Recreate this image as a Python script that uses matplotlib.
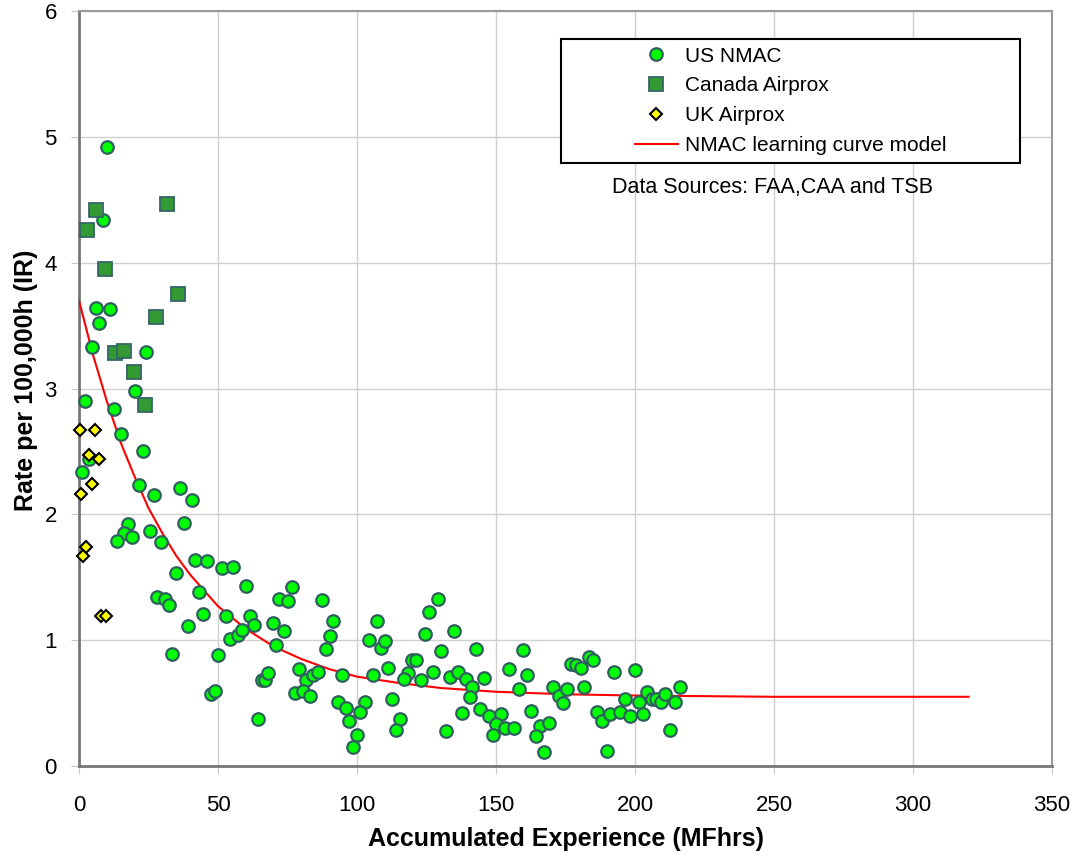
import matplotlib
matplotlib.use("Agg")
import matplotlib.pyplot as plt
from matplotlib.patches import Rectangle
from matplotlib.lines import Line2D

plt.rcParams['font.family'] = ['Liberation Sans', 'DejaVu Sans']

# US NMAC rates vs accumulated experience
us_x = [10.1, 8.6, 6.1, 11.2, 7.2, 4.7, 24.1, 2.2, 20.1, 12.6,
        15.1, 23.0, 3.6, 1.1, 21.6, 27.0, 36.3, 40.6, 37.8, 17.6,
        16.2, 19.1, 13.7, 25.5, 29.5, 41.7, 46.0, 51.4, 55.4, 34.9,
        60.1, 43.2, 28.1, 30.9, 32.4, 44.6, 52.9, 61.5, 62.9, 39.2,
        69.8, 71.9, 75.2, 76.6, 87.4, 91.4, 73.7, 70.9, 90.3, 88.8,
        54.3, 57.2, 58.6, 50.0, 33.5, 79.1, 81.7, 84.2, 86.0, 94.6,
        77.7, 80.6, 83.1, 65.8, 66.9, 68.0, 47.5, 48.9, 64.4, 93.2,
        96.0, 97.1, 102.9, 101.1, 100.0, 98.6, 104.3, 107.2, 108.6, 110.1,
        105.8, 111.2, 129.1, 125.9, 124.5, 134.9, 130.2, 142.8, 159.7, 119.8,
        121.2, 118.3, 116.9, 123.0, 127.3, 133.5, 136.3, 139.2, 141.4, 140.6,
        145.7, 154.7, 161.2, 158.3, 170.5, 172.7, 174.1, 175.5, 112.6, 115.5,
        114.0, 132.0, 137.8, 144.2, 147.5, 151.8, 150.0, 148.9, 153.2, 156.5,
        162.6, 165.8, 169.1, 164.4, 167.3, 183.5, 184.9, 177.0, 178.8, 180.6,
        192.4, 200.0, 181.7, 196.4, 201.4, 204.3, 206.1, 207.6, 209.4, 210.8,
        214.4, 216.2, 186.3, 188.1, 191.0, 194.6, 198.2, 202.9, 212.6, 189.9]
us_y = [4.92, 4.34, 3.64, 3.63, 3.52, 3.33, 3.29, 2.90, 2.98, 2.84,
        2.64, 2.50, 2.44, 2.34, 2.23, 2.15, 2.21, 2.11, 1.93, 1.92,
        1.85, 1.82, 1.79, 1.87, 1.78, 1.64, 1.63, 1.57, 1.58, 1.53,
        1.43, 1.38, 1.34, 1.33, 1.28, 1.21, 1.19, 1.19, 1.12, 1.11,
        1.14, 1.33, 1.31, 1.42, 1.32, 1.15, 1.07, 0.96, 1.03, 0.93,
        1.01, 1.04, 1.08, 0.88, 0.89, 0.77, 0.68, 0.72, 0.75, 0.72,
        0.58, 0.60, 0.56, 0.68, 0.68, 0.74, 0.57, 0.60, 0.37, 0.51,
        0.46, 0.36, 0.51, 0.43, 0.25, 0.15, 1.00, 1.15, 0.94, 0.99,
        0.72, 0.78, 1.33, 1.22, 1.05, 1.07, 0.91, 0.93, 0.92, 0.84,
        0.84, 0.74, 0.69, 0.68, 0.75, 0.71, 0.75, 0.69, 0.63, 0.55,
        0.70, 0.77, 0.72, 0.61, 0.63, 0.56, 0.50, 0.61, 0.53, 0.37,
        0.29, 0.28, 0.42, 0.45, 0.40, 0.41, 0.33, 0.25, 0.30, 0.30,
        0.44, 0.32, 0.34, 0.24, 0.11, 0.87, 0.84, 0.81, 0.80, 0.78,
        0.75, 0.76, 0.63, 0.53, 0.51, 0.59, 0.53, 0.53, 0.51, 0.57,
        0.51, 0.63, 0.43, 0.36, 0.41, 0.43, 0.40, 0.41, 0.29, 0.12]

# Canada Airprox
ca_x = [31.7, 6.1, 2.9, 9.4, 35.6, 27.7, 12.9, 16.2, 19.8, 23.7]
ca_y = [4.47, 4.42, 4.26, 3.95, 3.75, 3.57, 3.28, 3.30, 3.13, 2.87]

# UK Airprox
uk_x = [0.2, 5.8, 3.6, 7.2, 4.7, 0.7, 2.5, 1.4, 7.9, 9.7]
uk_y = [2.67, 2.67, 2.47, 2.44, 2.24, 2.16, 1.74, 1.67, 1.19, 1.19]

# NMAC learning curve model, sampled from the chart
curve_x = [0, 5, 10, 15, 20, 25, 30, 35, 40, 50, 60, 70, 80, 90,
           100, 115, 130, 150, 175, 200, 250, 320]
curve_y = [3.70, 3.27, 2.90, 2.57, 2.30, 2.05, 1.85, 1.67, 1.52, 1.27,
           1.09, 0.95, 0.85, 0.77, 0.71, 0.66, 0.62, 0.59, 0.57, 0.56,
           0.55, 0.55]

x_ticks = [0, 50, 100, 150, 200, 250, 300, 350]
y_ticks = [0, 1, 2, 3, 4, 5, 6]

us_style = dict(marker='o', ms=9, mfc='#00ff00', mec='#2f5f5f', mew=1.6)
ca_style = dict(marker='s', ms=9.5, mfc='#339933', mec='#336666', mew=1.3)
uk_style = dict(marker='D', ms=6.5, mfc='#ffff00', mec='black', mew=1.5)

W, H = 1071, 855
fig = plt.figure(figsize=(W / 100, H / 100), dpi=100)
ax = fig.add_axes([79 / W, 1 - 766 / H, 973 / W, 755 / H])

ax.set_xlim(0, 350)
ax.set_ylim(0, 6)
ax.set_xticks(x_ticks)
ax.set_yticks(y_ticks)
ax.grid(True, color='#d0d0d0', linewidth=1)
ax.set_axisbelow(True)
ax.tick_params(direction='out', length=6, color='#c8c8c8', labelsize=16)
ax.tick_params(axis='x', pad=15)
ax.tick_params(axis='y', pad=10)
for side in ['left', 'bottom']:
    ax.spines[side].set_color('#777777')
    ax.spines[side].set_linewidth(2)
for side in ['top', 'right']:
    ax.spines[side].set_color('#999999')
    ax.spines[side].set_linewidth(1.5)

ax.plot(curve_x, curve_y, color='red', lw=1.5, zorder=3)
ax.plot(us_x, us_y, ls='none', zorder=4, clip_on=False, **us_style)
ax.plot(ca_x, ca_y, ls='none', zorder=4, clip_on=False, **ca_style)
ax.plot(uk_x, uk_y, ls='none', zorder=5, clip_on=False, **uk_style)

# legend: frame drawn separately so it can be wider than the entries
handles = [
    Line2D([], [], ls='none', **us_style),
    Line2D([], [], ls='none', **ca_style),
    Line2D([], [], ls='none', **uk_style),
    Line2D([], [], color='red', lw=1.5),
]
labels = ['US NMAC', 'Canada Airprox', 'UK Airprox', 'NMAC learning curve model']
ax.add_patch(Rectangle((0.4954, 0.7987), 0.4717, 0.1642, transform=ax.transAxes,
                       facecolor='white', edgecolor='black', lw=1.5, zorder=6))
leg = ax.legend(handles, labels, loc='center', bbox_to_anchor=(0.731, 0.881),
                frameon=False, fontsize=15, handlelength=2.1, handletextpad=0.3,
                labelspacing=0.52, borderpad=0)
leg.set_zorder(7)

ax.text(0.713, 0.766, 'Data Sources: FAA,CAA and TSB', transform=ax.transAxes,
        ha='center', va='center', fontsize=15.5)

fig.text(566 / W, 1 - 839 / H, 'Accumulated Experience (MFhrs)', ha='center',
         va='center', fontsize=18, fontweight='bold')
fig.text(26 / W, 1 - 380 / H, 'Rate per 100,000h (IR)', ha='center', va='center',
         rotation=90, fontsize=18, fontweight='bold')

fig.savefig('out.png', dpi=100)
